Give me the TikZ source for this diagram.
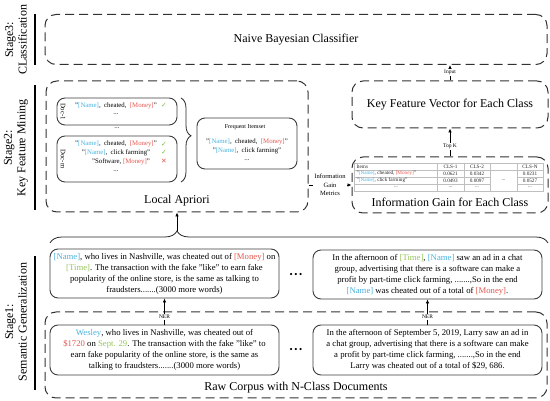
\documentclass[tikz,border=0pt]{standalone}
\usepackage{fontspec}
\setmainfont{Liberation Serif}
\newfontfamily\symf{DejaVu Sans}
\usetikzlibrary{arrows.meta,decorations.pathreplacing}
\definecolor{cname}{RGB}{72,178,222}
\definecolor{cmoney}{RGB}{228,86,78}
\definecolor{ctime}{RGB}{150,196,90}
\definecolor{cgreen}{RGB}{120,190,60}
\definecolor{dgray}{RGB}{50,50,50}
\definecolor{sgray}{RGB}{60,60,60}
\newcommand\NameT{\textcolor{cname}{[Name]}}
\newcommand\MoneyT{\textcolor{cmoney}{[Money]}}
\newcommand\TimeT{\textcolor{ctime}{[Time]}}
\newcommand\CheckT{{\symf\textcolor{cgreen}{✓}}}
\newcommand\CrossT{{\symf\textcolor{cmoney}{✕}}}
\newcommand\DotsT{{\fontsize{9}{9}\selectfont\textbullet\hspace{1.6pt}\textbullet\hspace{1.6pt}\textbullet}}
\begin{document}
\begin{tikzpicture}[x=1pt,y=-1pt,
  dbox/.style={draw=dgray, line width=1pt, dash pattern=on 9pt off 5pt, rounded corners=11pt},
  sbox/.style={draw=sgray, line width=0.9pt, rounded corners=8pt, inner sep=1pt},
  arr/.style={-{Latex[length=4pt,width=3.5pt]}, line width=0.7pt, draw=black},
  ttl/.style={font=\fontsize{12}{14}\selectfont},
  body/.style={font=\fontsize{8.7}{11}\selectfont, align=center},
  small/.style={font=\fontsize{6.8}{8.5}\selectfont, inner sep=0.5pt},
  tiny/.style={font=\fontsize{5.5}{6.5}\selectfont, inner sep=1pt},
  tab/.style={font=\fontsize{5.2}{6}\selectfont, inner sep=0.3pt, text=black!85},
  tgrid/.style={draw=black!25, line width=0.4pt},
  stg/.style={font=\fontsize{12}{13.5}\selectfont, rotate=90, align=center},
  stline/.style={line width=1.6pt, draw=black},
  brc/.style={line width=0.8pt, draw=black!85, decorate}
]
\useasboundingbox (0,0) rectangle (550,401);

% ---------------- Stage 3 ----------------
\node[stg] (s3) at (16,40) {Stage3:\\CLassification};
\draw[stline] (35,14) -- (35,65);
\node[dbox, ttl, minimum width=502pt, minimum height=50pt] (nb) at (296,39.5) {Naive Bayesian Classifier};

% ---------------- Stage 2 ----------------
\node[stg] (s2) at (16,148) {Stage2:\\Key Feature Mining};
\draw[stline] (35,85) -- (35,210);

\node[dbox, minimum width=262pt, minimum height=131pt] (ap) at (177,146.5) {};
\node[ttl] (apt) at (177,201) {Local Apriori};

\node[sbox, minimum width=120pt, minimum height=27pt] (d1) at (117,111.5) {};
\node[small, rotate=-90] (d1l) at (63,111.5) {Doc-1};
\node[small] (d1a) at (116,105.5) {"\NameT,\ \ cheated,\ \ \MoneyT"};
\node[small] (d1b) at (116,114.5) {...};
\node[small] (d1c) at (164,105.5) {\CheckT};
\node[small] (dd) at (117,128.5) {...};

\node[sbox, minimum width=120pt, minimum height=46pt] (dm) at (117,159) {};
\node[small, rotate=-90] (dml) at (63,159) {Doc-m};
\node[small] (dma) at (116,144) {"\NameT,\ \ cheated,\ \ \MoneyT"};
\node[small] (dmb) at (116,152.5) {"\NameT,\ \ click farming"};
\node[small] (dmc) at (121,161.5) {"Software, \MoneyT"};
\node[small] (dmd) at (116,171) {...};
\node[small] (dme) at (164,144) {\CheckT};
\node[small] (dmf) at (164,152.5) {\CheckT};
\node[small] (dmg) at (164,161.5) {\CrossT};

\draw[brc, decoration={brace, amplitude=10pt, aspect=0.45}] (181,98) -- (181,182);

\node[sbox, minimum width=100pt, minimum height=51pt] (fi) at (247,143.5) {};
\node[font=\fontsize{6}{7}\selectfont] (fit) at (245,127.5) {Frequent Itemset};
\node[small] (fia) at (247,142) {"\NameT,\ \ cheated,\ \ \MoneyT"};
\node[small] (fib) at (247,151) {"\NameT,\ \ click farming"};
\node[small] (fic) at (247,160) {...};

\node[dbox, ttl, minimum width=196pt, minimum height=47pt] (kf) at (450,104.5) {Key Feature Vector for Each Class};
\node[dbox, minimum width=196pt, minimum height=56pt] (ig) at (450,185) {};
\node[ttl] (igt) at (450,202) {Information Gain for Each Class};

% table
\draw[tgrid] (354,163) rectangle (543,191);
\draw[tgrid] (354,170) -- (543,170);
\draw[tgrid] (354,177) -- (490,177) (517,177) -- (543,177);
\draw[tgrid] (354,184) -- (490,184) (517,184) -- (543,184);
\draw[tgrid] (437,163) -- (437,191) (464,163) -- (464,191) (490,163) -- (490,191) (517,163) -- (517,191);
\node[tab, anchor=west] (th1) at (356,166.5) {Items};
\node[tab] (th2) at (450.5,166.5) {CLS-1};
\node[tab] (th3) at (477,166.5) {CLS-2};
\node[tab] (th5) at (530,166.5) {CLS-N};
\node[tab, anchor=west] (ta1) at (356,173.5) {"\NameT, cheated, \MoneyT"};
\node[tab] (ta2) at (450.5,173.5) {0.0621};
\node[tab] (ta3) at (477,173.5) {0.0342};
\node[tab] (ta5) at (530,173.5) {0.0231};
\node[tab, anchor=west] (tb1) at (356,180.5) {"\NameT, click farming"};
\node[tab] (tb2) at (450.5,180.5) {0.0493};
\node[tab] (tb3) at (477,180.5) {0.0097};
\node[tab] (tb5) at (530,180.5) {0.0527};
\node[tab] (tc1) at (396,187.5) {...};
\node[tab] (tc2) at (450.5,187.5) {...};
\node[tab] (tc3) at (477,187.5) {...};
\node[tab] (tc5) at (530,187.5) {...};
\node[tab] (tm4) at (503.5,180.5) {...};

% stage 2 connectors
\draw[arr] (ap.east |- ig.west) -- node[fill=white, font=\fontsize{6.5}{8.3}\selectfont, align=center, inner sep=1pt] (igm) {Information\\Gain\\Metrics} (ig.west);
\draw[arr] (ig.north) -- node[tiny, fill=white, pos=0.35] (tk) {Top K} (kf.south);
\draw[arr] (kf.north) -- node[tiny, fill=white, pos=0.5] (inp) {Input} (kf.north |- nb.south);

% ---------------- Stage 1 ----------------
\node[stg] (s1) at (16,322) {Stage1:\\Semantic Generalization};
\draw[stline] (35,256) -- (35,390);

\draw[brc, decoration={brace, amplitude=12pt, aspect=0.255}] (50,243) -- (548,243);
\coordinate (btip) at (177,231);
\draw[arr] (btip) -- (btip |- ap.south);

\node[sbox, body, minimum width=229pt, minimum height=49pt] (g1) at (164.5,273.5)
  {\NameT, who lives in Nashville, was cheated out of \MoneyT{} on\\
   \TimeT. The transaction with the fake "like" to earn fake\\
   popularity of the online store, is the same as talking to\\
   fraudsters.......(3000 more words)};
\node (gd) at (296,275) {\DotsT};
\node[sbox, body, minimum width=229pt, minimum height=49pt] (g2) at (427.5,274.5)
  {In the afternoon of \TimeT, \NameT{} saw an ad in a chat\\
   group, advertising that there is a software can make a\\
   profit by part-time click farming, .......,So in the end\\
   \NameT{} was cheated out of a total of \MoneyT.};

\node[dbox, minimum width=502pt, minimum height=86pt] (rc) at (296,355) {};
\node[ttl] (rct) at (296,388) {Raw Corpus with N-Class Documents};

\node[sbox, body, minimum width=229pt, minimum height=50pt] (r1) at (164.5,350)
  {\textcolor{cname}{Wesley}, who lives in Nashville, was cheated out of\\
   \textcolor{cmoney}{\$1720} on \textcolor{ctime}{Sept. 29}. The transaction with the fake "like" to\\
   earn fake popularity of the online store, is the same as\\
   talking to fraudsters.......(3000 more words)};
\node (rd) at (296,350) {\DotsT};
\node[sbox, body, minimum width=229pt, minimum height=50pt] (r2) at (427.5,350)
  {In the afternoon of September 5, 2019, Larry saw an ad in\\
   a chat group, advertising that there is a software can make\\
   a profit by part-time click farming, .......,So in the end\\
   Larry was cheated out of a total of \$29, 686.};

\draw[arr] (r1.north) -- node[tiny, fill=white, pos=0.3] (ner1) {NER} (g1.south);
\draw[arr] (r2.north) -- node[tiny, fill=white, pos=0.3] (ner2) {NER} (g2.south);
\end{tikzpicture}
\end{document}
